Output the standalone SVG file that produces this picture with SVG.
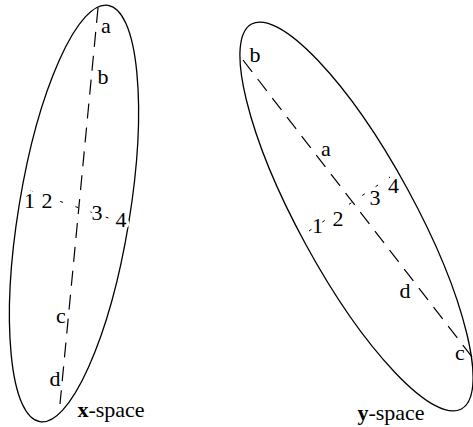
<svg xmlns="http://www.w3.org/2000/svg" width="473" height="427" viewBox="0 0 473 427">
<style>
.ell{fill:none;stroke:#000;stroke-width:1.3}
.dash{fill:none;stroke:#000;stroke-width:1.2;stroke-dasharray:15 9}
.sdash{fill:none;stroke:#000;stroke-width:1;stroke-dasharray:3 13}
text{font-family:"Liberation Serif","Times New Roman",serif;font-size:22px;fill:#000;text-anchor:middle}
.halo{stroke:#fff;stroke-width:6;paint-order:stroke;stroke-linejoin:round}
.b{font-weight:bold}
</style>
<rect width="473" height="427" fill="#fff"/>
<g id="x-space">
<ellipse class="ell" cx="74" cy="213.5" rx="55.5" ry="211" transform="rotate(9.3 74 213.5)"/>
</g>
<g id="y-space">
<ellipse class="ell" cx="356.5" cy="216.5" rx="57.9" ry="219.2" transform="rotate(-28.6 356.5 216.5)"/>
</g>
<g id="connectors">
<line class="dash" x1="98" y1="8" x2="60" y2="404"/>
<line class="sdash" x1="30" y1="191" x2="120" y2="222"/>
<line class="dash" x1="243" y1="60" x2="472" y2="357"/>
<line class="sdash" x1="309" y1="231" x2="390" y2="177"/>
</g>
<g id="x-labels">
<text x="106" y="33">a</text>
<text x="103" y="84">b</text>
<text class="halo" x="29.5" y="208">1</text>
<text class="halo" x="47" y="208">2</text>
<text class="halo" x="97" y="220">3</text>
<text class="halo" x="121" y="227">4</text>
<text x="61" y="323">c</text>
<text x="55" y="386">d</text>
<text x="111" y="417"><tspan class="b">x</tspan>-space</text>
</g>
<g id="y-labels">
<text x="255" y="62">b</text>
<text x="326" y="156">a</text>
<text class="halo" x="317.5" y="233">1</text>
<text class="halo" x="338" y="226">2</text>
<text class="halo" x="375" y="205">3</text>
<text class="halo" x="393.5" y="193">4</text>
<text x="405" y="298">d</text>
<text x="460" y="360">c</text>
<text x="391" y="420"><tspan class="b">y</tspan>-space</text>
</g>
</svg>
